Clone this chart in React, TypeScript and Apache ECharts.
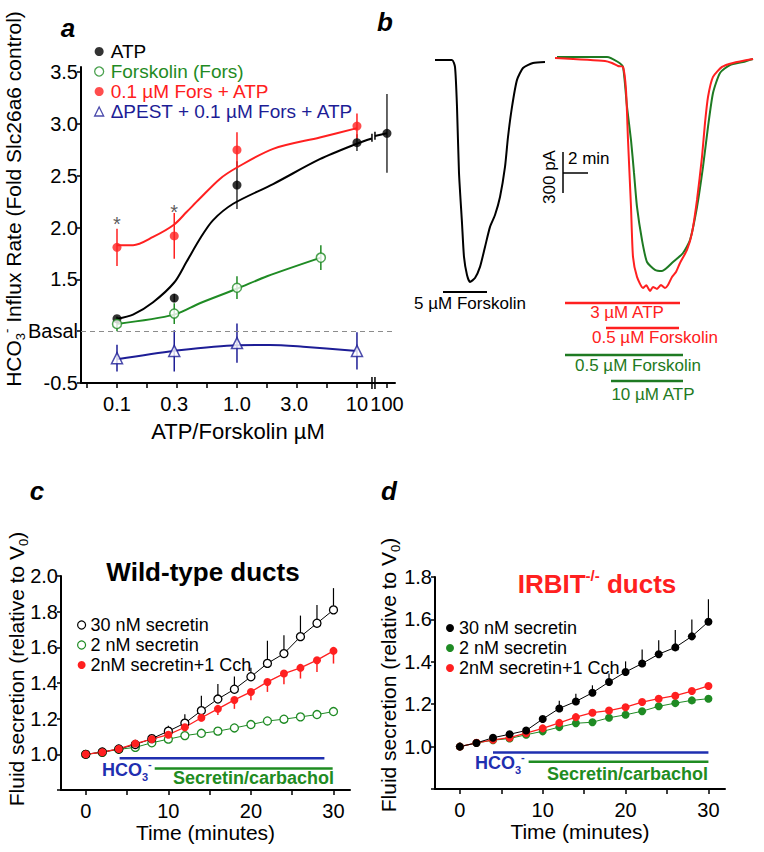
import React, { useEffect, useRef } from 'react';
import * as echarts from 'echarts';

const FONT = '"Liberation Sans", Arial, Helvetica, sans-serif';
const BLACK = '#000000';
const GREEN = '#1f8b24';
const RED = '#ff2020';
const NAVY = '#1d1d96';
const BAR_BLUE = '#1f2fb0';
const BAR_GREEN = '#1f8c22';
const TRACE_GREEN = '#1e7a22';

// ---------------- Panel a: HCO3- influx vs concentration ----------------
const A_TICK_VALUES = [0.1, 0.3, 1, 3, 10, 100];
const A_TICK_TEXT = ['0.1', '0.3', '1.0', '3.0', '10', '100'];

const atpX = [0.1, 0.3, 1, 10, 100];
const atpY = [1.12, 1.32, 2.41, 2.82, 2.91];
const atpErr = [0.02, 0.04, 0.23, 0.08, 0.38];

const forsX = [0.1, 0.3, 1, 5];
const forsY = [1.07, 1.17, 1.42, 1.71];
const forsErr = [0.07, 0.1, 0.11, 0.12];

const comboX = [0.1, 0.3, 1, 10];
const comboY = [1.81, 1.92, 2.75, 2.98];
const comboErr = [0.18, 0.22, 0.17, 0.12];
const comboSignificant = [true, true, false, false];

const pestX = [0.1, 0.3, 1, 10];
const pestY = [0.74, 0.81, 0.885, 0.81];
const pestErr = [0.13, 0.2, 0.19, 0.18];

// fitted curves: [µM, fold]
const atpFit = [[0.1, 1.12], [0.136, 1.16], [0.2, 1.28], [0.3, 1.47], [0.38, 1.67], [0.49, 1.89], [0.63, 2.07], [0.93, 2.23], [2, 2.42], [4.9, 2.66], [10, 2.81], [13.3, 2.86]];
const atpFitTail = [[14.1, 2.885], [100, 2.91]];
const comboFit = [[0.1, 1.83], [0.136, 1.83], [0.2, 1.91], [0.3, 2.03], [0.38, 2.15], [0.49, 2.28], [0.72, 2.47], [1, 2.58], [2, 2.76], [4.9, 2.87], [10, 2.96]];
const forsFit = [[0.1, 1.07], [0.3, 1.16], [0.49, 1.27], [1, 1.41], [1.78, 1.53], [5, 1.71]];
const pestFit = [[0.1, 0.73], [0.3, 0.81], [1, 0.865], [1.88, 0.867], [3.55, 0.85], [10, 0.81]];

// ---------------- Panel b: whole-cell current traces [min, pA] ----------------
const traceControl = [[2.8, 0], [4.16, 0], [4.4, -51], [4.56, -344], [4.72, -827], [4.96, -1193], [5.12, -1442], [5.36, -1574], [5.6, -1625], [6.0, -1596], [6.4, -1515], [6.8, -1369], [7.2, -1222], [7.6, -1135], [8.0, -1003], [8.4, -783], [8.64, -564], [8.96, -344], [9.36, -146], [9.84, -59], [10.64, -22], [11.6, -15]];
const traceForsAtp = [[12.56, 22], [16.56, 22], [17.44, -15], [17.84, -51], [18.16, -344], [18.48, -586], [18.72, -827], [18.96, -1076], [19.36, -1318], [19.76, -1479], [20.4, -1537], [20.96, -1545], [21.84, -1479], [22.64, -1413], [23.2, -1318], [23.76, -1076], [24.24, -783], [24.64, -490], [25.04, -242], [25.6, -95], [26.4, -37], [27.44, -15], [28.24, 7]];
const traceAtpFors = [[12.4, 15], [16.4, -7], [16.96, -22], [17.44, -44], [17.84, -51], [18.08, -220], [18.24, -586], [18.48, -1076], [18.64, -1442], [18.96, -1588], [19.44, -1669], [19.7, -1650], [20.0, -1691], [20.24, -1662], [20.56, -1676], [20.88, -1647], [21.2, -1669], [21.44, -1647], [21.76, -1588], [22.08, -1552], [22.4, -1486], [22.96, -1391], [23.36, -1266], [23.76, -1025], [24.16, -710], [24.4, -461], [24.64, -271], [25.04, -124], [25.76, -51], [26.64, -22], [28.24, 7]];
// protocol bars [start, end] in min
const barFors5 = [3.44, 6.96];
const barAtp3 = [13.2, 22.4];
const barFors05Red = [16.48, 22.32];
const barFors05Green = [13.2, 22.64];
const barAtp10 = [16.88, 22.64];

// ---------------- Panels c, d: fluid secretion ----------------
const TIME = [0, 2, 4, 6, 8, 10, 12, 14, 16, 18, 20, 22, 24, 26, 28, 30];
const wt30 = [1.0, 1.013, 1.03, 1.055, 1.088, 1.13, 1.175, 1.245, 1.31, 1.365, 1.435, 1.51, 1.565, 1.66, 1.735, 1.81];
const wt30Err = [0, 0, 0, 0, 0, 0.03, 0.05, 0.084, 0.084, 0.071, 0.05, 0.127, 0.103, 0.118, 0.103, 0.122];
const wt2 = [1.0, 1.011, 1.028, 1.039, 1.065, 1.085, 1.105, 1.118, 1.13, 1.148, 1.167, 1.187, 1.197, 1.21, 1.223, 1.24];
const wtCch = [1.0, 1.012, 1.03, 1.06, 1.085, 1.11, 1.152, 1.205, 1.255, 1.305, 1.35, 1.406, 1.453, 1.485, 1.528, 1.58];
const wtCchErr = [0, 0, 0, 0, 0, 0, 0, 0.02, 0.034, 0.05, 0.047, 0.056, 0.06, 0.06, 0.066, 0.071];

const ko30 = [1.0, 1.017, 1.042, 1.058, 1.076, 1.13, 1.18, 1.213, 1.254, 1.305, 1.352, 1.392, 1.436, 1.468, 1.52, 1.589];
const ko30Err = [0, 0, 0, 0, 0, 0, 0.036, 0.036, 0.035, 0.04, 0.05, 0.066, 0.066, 0.082, 0.079, 0.106];
const ko2 = [1.0, 1.017, 1.03, 1.038, 1.056, 1.072, 1.092, 1.11, 1.115, 1.136, 1.15, 1.167, 1.19, 1.205, 1.218, 1.226];
const koCch = [1.0, 1.018, 1.032, 1.042, 1.063, 1.086, 1.112, 1.139, 1.16, 1.17, 1.186, 1.21, 1.226, 1.24, 1.262, 1.286];

const cHco3Bar = [4.1, 28.9];
const cSecBar = [8.35, 29.9];
const dHco3Bar = [4.0, 30];
const dSecBar = [8.3, 30];

const LEGEND_TEXT: Record<string, string> = {
  c30: '30 nM secretin', c2: '2 nM secretin', cCch: '2nM secretin+1 Cch',
  d30: '30 nM secretin', d2: '2 nM secretin', dCch: '2nM secretin+1 Cch',
};

const pos = (x: number) => (x >= 100 ? 1.25 : Math.log10(x));

function errBars(name: string, xs: number[], ys: number[], lo: number[], hi: number[], color: string, idx: number, width: number, mapX: (x: number) => number) {
  return {
    type: 'custom', name, xAxisIndex: idx, yAxisIndex: idx, z: 1, silent: true,
    data: xs.map((x, i) => [mapX(x), ys[i] - lo[i], ys[i] + hi[i]]),
    encode: { x: 0, y: [1, 2] },
    renderItem: (_p: any, api: any) => {
      const a = api.coord([api.value(0), api.value(1)]);
      const b = api.coord([api.value(0), api.value(2)]);
      return { type: 'line', shape: { x1: a[0], y1: a[1], x2: b[0], y2: b[1] }, style: { stroke: color, lineWidth: width } };
    },
  };
}

function txt(text: string, x: number, y: number, o: any = {}) {
  const align = o.align || 'center';
  return {
    type: 'text', x, y, rotation: o.rotation || 0, silent: true, z: 100,
    style: {
      text, fill: o.color || BLACK, fontSize: o.size || 20, fontWeight: o.weight || 'normal',
      fontStyle: o.style || 'normal', fontFamily: FONT,
      align, verticalAlign: 'middle', textAlign: align, textVerticalAlign: 'middle',
      rich: o.rich,
    },
  };
}

function hline(x1: number, y1: number, x2: number, y2: number, w = 1.5) {
  return { type: 'line', silent: true, shape: { x1, y1, x2, y2 }, style: { stroke: BLACK, lineWidth: w } };
}

function richSub(size: number, color: string, weight = 'normal') {
  return {
    m: { fontSize: size, lineHeight: size + 6, fill: color, color, fontWeight: weight, fontFamily: FONT },
    s: { fontSize: Math.round(size * 0.62), lineHeight: Math.round(size * 0.62), verticalAlign: 'bottom', fill: color, color, fontWeight: weight, fontFamily: FONT },
    p: { fontSize: Math.round(size * 0.62), lineHeight: Math.round(size * 0.62), verticalAlign: 'top', fill: color, color, fontWeight: weight, fontFamily: FONT },
  };
}

function buildOption() {
  const axisLine = { show: true, onZero: false, lineStyle: { color: BLACK, width: 2 } };
  const tick = { show: true, length: 5, inside: false, lineStyle: { color: BLACK, width: 1.5 } };
  const label = { color: BLACK, fontSize: 20, fontFamily: FONT };

  const dataTicksA = [-1.25, -1, -0.75, -0.5, -0.25, 0, 0.25, 0.5, 0.75, 1, 1.25];

  const xAxis: any[] = [
    {
      gridIndex: 0, type: 'value', min: -1.3, max: 1.317,
      axisLine, splitLine: { show: false },
      axisTick: { ...tick, customValues: dataTicksA },
      axisLabel: {
        ...label, margin: 11,
        customValues: A_TICK_VALUES.map(pos),
        formatter: (v: number) => {
          const i = A_TICK_VALUES.findIndex((t) => Math.abs(pos(t) - v) < 1e-6);
          return i >= 0 ? A_TICK_TEXT[i] : '';
        },
      },
      name: 'ATP/Forskolin µM', nameLocation: 'middle', nameGap: 37,
      nameTextStyle: { color: BLACK, fontSize: 22, fontFamily: FONT },
    },
    { gridIndex: 1, type: 'value', min: 0, max: 29.12, show: false },
    {
      gridIndex: 2, type: 'value', min: -3, max: 32, axisLine, splitLine: { show: false },
      axisTick: { ...tick, customValues: [0, 5, 10, 15, 20, 25, 30] },
      axisLabel: { ...label, margin: 11, customValues: [0, 10, 20, 30] },
      name: 'Time (minutes)', nameLocation: 'middle', nameGap: 26,
      nameTextStyle: { color: BLACK, fontSize: 21, fontFamily: FONT },
    },
    {
      gridIndex: 3, type: 'value', min: -3, max: 32, axisLine, splitLine: { show: false },
      axisTick: { ...tick, customValues: [0, 5, 10, 15, 20, 25, 30] },
      axisLabel: { ...label, margin: 11, customValues: [0, 10, 20, 30] },
      name: 'Time (minutes)', nameLocation: 'middle', nameGap: 26,
      nameTextStyle: { color: BLACK, fontSize: 21, fontFamily: FONT },
    },
  ];

  const yAxis: any[] = [
    {
      gridIndex: 0, type: 'value', min: 0.5, max: 3.55, interval: 0.5,
      axisLine, axisTick: { ...tick, length: 4 }, splitLine: { show: false },
      axisLabel: {
        ...label, margin: 3, showMaxLabel: false,
        formatter: (v: number) => (Math.abs(v - 1) < 1e-6 ? 'Basal' : Math.abs(v - 0.5) < 1e-6 ? '-0.5' : v.toFixed(1)),
      },
    },
    { gridIndex: 1, type: 'value', min: -2489, max: 146, show: false },
    {
      gridIndex: 2, type: 'value', min: 0.8, max: 2.0, interval: 0.2,
      axisLine, axisTick: { ...tick, length: 4 }, splitLine: { show: false },
      axisLabel: { ...label, margin: 3, formatter: (v: number) => (v < 0.9 ? '' : v.toFixed(1)) },
    },
    {
      gridIndex: 3, type: 'value', min: 0.8, max: 1.8, interval: 0.2,
      axisLine, axisTick: { ...tick, length: 4 }, splitLine: { show: false },
      axisLabel: { ...label, margin: 3, formatter: (v: number) => (v < 0.9 ? '' : v.toFixed(1)) },
    },
  ];

  const fit = (name: string, pts: number[][], color: string) => ({
    type: 'line', name, xAxisIndex: 0, yAxisIndex: 0, z: 2, silent: true,
    data: pts.map(([x, y]) => [pos(x), y]), smooth: 0.3, symbol: 'none',
    lineStyle: { color, width: 2 },
  });

  const pts = (name: string, xs: number[], ys: number[], symbol: string, color: string, open: boolean, size: number, extra: any = {}) => ({
    type: 'scatter', name, xAxisIndex: 0, yAxisIndex: 0, z: 3, silent: true,
    symbol, symbolSize: size,
    itemStyle: open ? { color: '#ffffff', borderColor: color, borderWidth: 1.5 } : { color },
    data: xs.map((x, i) => [pos(x), ys[i]]),
    ...extra,
  });

  const tline = (name: string, data: number[][], color: string) => ({
    type: 'line', name, xAxisIndex: 1, yAxisIndex: 1, data, symbol: 'none', smooth: 0.2, silent: true,
    lineStyle: { color, width: 2 }, z: 2,
  });
  const pbar = (name: string, span: number[], level: number, color: string, idx: number, width = 2.5) => ({
    type: 'line', name, xAxisIndex: idx, yAxisIndex: idx, symbol: 'none', silent: true,
    data: [[span[0], level], [span[1], level]], lineStyle: { color, width }, z: 2,
  });

  const sec = (name: string, idx: number, ys: number[], color: string, open: boolean, lineW = 1) => ({
    type: 'line', name, xAxisIndex: idx, yAxisIndex: idx, silent: true,
    data: TIME.map((t, i) => [t, ys[i]]), symbol: 'circle', symbolSize: 8, showSymbol: true,
    itemStyle: open ? { color: '#ffffff', borderColor: color, borderWidth: 1.3 } : { color },
    lineStyle: { color, width: lineW }, z: 3,
  });

  const breaks = {
    type: 'custom', name: 'breaks', xAxisIndex: 0, yAxisIndex: 0, silent: true, z: 4,
    data: [[1.125, 0.5, 6], [1.15, 0.5, 6], [1.125, 2.868, 4], [1.15, 2.886, 4]],
    renderItem: (_p: any, api: any) => {
      const c = api.coord([api.value(0), api.value(1)]);
      const h = api.value(2);
      return { type: 'line', shape: { x1: c[0], y1: c[1] - h, x2: c[0], y2: c[1] + h }, style: { stroke: BLACK, lineWidth: 1.5 } };
    },
  };

  const series: any[] = [
    // panel a
    errBars('errATP', atpX, atpY, atpErr, atpErr, '#333333', 0, 1.5, pos),
    errBars('errFors', forsX, forsY, forsErr, forsErr, GREEN, 0, 1.5, pos),
    errBars('errCombo', comboX, comboY, comboErr, comboErr, RED, 0, 1.5, pos),
    errBars('errPest', pestX, pestY, pestErr, pestErr, NAVY, 0, 1.5, pos),
    fit('fitATP', atpFit, BLACK),
    fit('fitATPTail', atpFitTail, BLACK),
    fit('fitFors', forsFit, GREEN),
    fit('fitCombo', comboFit, RED),
    fit('fitPest', pestFit, NAVY),
    pts('ATP', atpX, atpY, 'circle', BLACK, false, 9, {
      markLine: {
        silent: true, symbol: 'none', label: { show: false },
        lineStyle: { color: '#8c8c8c', type: [5, 4], width: 1 },
        data: [{ yAxis: 1 }],
      },
    }),
    pts('Forskolin (Fors)', forsX, forsY, 'circle', GREEN, true, 9),
    {
      ...pts('0.1 µM Fors + ATP', comboX, comboY, 'circle', RED, false, 9),
      data: comboX.map((x, i) => ({
        value: [pos(x), comboY[i]],
        label: comboSignificant[i]
          ? { show: true, formatter: '*', position: 'top', distance: 7 + comboErr[i] * 10, color: '#333', fontSize: 20, fontFamily: FONT }
          : { show: false },
      })),
    },
    pts('ΔPEST + 0.1 µM Fors + ATP', pestX, pestY, 'triangle', NAVY, true, 11),
    breaks,
    // panel b
    tline('traceControl', traceControl, BLACK),
    tline('traceForsAtp', traceForsAtp, TRACE_GREEN),
    tline('traceAtpFors', traceAtpFors, RED),
    pbar('barFors5', barFors5, -1698, BLACK, 1, 2),
    pbar('barAtp3', barAtp3, -1779, RED, 1, 2.5),
    pbar('barFors05Red', barFors05Red, -1962, RED, 1, 2.5),
    pbar('barFors05Green', barFors05Green, -2159, TRACE_GREEN, 1, 2.5),
    pbar('barAtp10', barAtp10, -2350, TRACE_GREEN, 1, 2.5),
    // panel c
    errBars('errC30', TIME, wt30, wt30.map(() => 0), wt30Err, BLACK, 2, 1.2, (x) => x),
    errBars('errCCch', TIME, wtCch, wtCchErr, wtCch.map(() => 0), RED, 2, 1.5, (x) => x),
    pbar('cHco3', cHco3Bar, 0.978, BAR_BLUE, 2, 2.5),
    pbar('cSec', cSecBar, 0.921, BAR_GREEN, 2, 2.5),
    sec('c2', 2, wt2, GREEN, true, 1),
    sec('c30', 2, wt30, BLACK, true, 1),
    sec('cCch', 2, wtCch, RED, false, 1.3),
    // panel d
    errBars('errD30', TIME, ko30, ko30.map(() => 0), ko30Err, BLACK, 3, 1.2, (x) => x),
    pbar('dHco3', dHco3Bar, 0.972, BAR_BLUE, 3, 2.5),
    pbar('dSec', dSecBar, 0.929, BAR_GREEN, 3, 2.5),
    sec('d2', 3, ko2, GREEN, false, 1),
    sec('dCch', 3, koCch, RED, false, 1.3),
    sec('d30', 3, ko30, BLACK, false, 1),
  ];

  const legendBase = {
    orient: 'vertical', selectedMode: false, itemWidth: 9, itemHeight: 9,
    textStyle: { fontSize: 18, fontFamily: FONT, color: BLACK },
  };

  const legend: any[] = [
    {
      ...legendBase, left: 89, top: 37, itemGap: 1,
      textStyle: { fontSize: 19, fontFamily: FONT, color: BLACK, padding: [0, 0, 0, 2] },
      data: [
        { name: 'ATP', icon: 'circle', itemStyle: { color: BLACK }, textStyle: { color: BLACK } },
        { name: 'Forskolin (Fors)', icon: 'circle', itemStyle: { color: '#fff', borderColor: GREEN, borderWidth: 1.3 }, textStyle: { color: GREEN } },
        { name: '0.1 µM Fors + ATP', icon: 'circle', itemStyle: { color: RED }, textStyle: { color: RED } },
        { name: 'ΔPEST + 0.1 µM Fors + ATP', icon: 'triangle', itemStyle: { color: '#fff', borderColor: NAVY, borderWidth: 1.3 }, textStyle: { color: NAVY } },
      ],
    },
    {
      ...legendBase, left: 72, top: 611, itemGap: 2, itemWidth: 8, itemHeight: 8,
      formatter: (n: string) => LEGEND_TEXT[n],
      data: [
        { name: 'c30', icon: 'circle', itemStyle: { color: '#fff', borderColor: BLACK, borderWidth: 1.2 } },
        { name: 'c2', icon: 'circle', itemStyle: { color: '#fff', borderColor: GREEN, borderWidth: 1.2 } },
        { name: 'cCch', icon: 'circle', itemStyle: { color: RED } },
      ],
    },
    {
      ...legendBase, left: 441, top: 614, itemGap: 2, itemWidth: 8, itemHeight: 8,
      formatter: (n: string) => LEGEND_TEXT[n],
      data: [
        { name: 'd30', icon: 'circle', itemStyle: { color: BLACK } },
        { name: 'd2', icon: 'circle', itemStyle: { color: GREEN } },
        { name: 'dCch', icon: 'circle', itemStyle: { color: RED } },
      ],
    },
  ];

  const graphic: any[] = [
    txt('a', 68, 28, { size: 26, weight: 'bold', style: 'italic' }),
    txt('b', 385, 22, { size: 26, weight: 'bold', style: 'italic' }),
    txt('c', 37, 491, { size: 26, weight: 'bold', style: 'italic' }),
    txt('d', 389, 491, { size: 26, weight: 'bold', style: 'italic' }),
    txt('{m|HCO}{s|3}{p|-}{m| Influx Rate (Fold Slc26a6 control)}', 13, 199, { rotation: Math.PI / 2, rich: richSub(21, BLACK) }),
    txt('{m|Fluid secretion (relative to V}{s|0}{m|)}', 16, 669, { rotation: Math.PI / 2, rich: richSub(21, BLACK) }),
    txt('{m|Fluid secretion (relative to V}{s|0}{m|)}', 388, 675, { rotation: Math.PI / 2, rich: richSub(21, BLACK) }),
    txt('Wild-type ducts', 203, 572, { size: 26, weight: 'bold' }),
    txt('{m|IRBIT}{p|-/-}{m| ducts}', 597, 584, { rich: { ...richSub(26, RED, 'bold'), p: { fontSize: 15, lineHeight: 15, verticalAlign: 'top', fill: RED, fontWeight: 'bold', fontFamily: FONT } } }),
    // panel c/d protocol labels
    txt('{m|HCO}{s|3}{p|-}', 102, 770, { align: 'left', rich: richSub(18, BAR_BLUE, 'bold') }),
    txt('Secretin/carbachol', 173, 778, { align: 'left', size: 18, weight: 'bold', color: BAR_GREEN }),
    txt('{m|HCO}{s|3}{p|-}', 475, 763, { align: 'left', rich: richSub(18, BAR_BLUE, 'bold') }),
    txt('Secretin/carbachol', 547, 774, { align: 'left', size: 18, weight: 'bold', color: BAR_GREEN }),
    // panel b labels
    txt('5 µM Forskolin', 470, 303, { size: 17 }),
    txt('3 µM ATP', 627, 312, { size: 17, color: RED }),
    txt('0.5 µM Forskolin', 655, 337, { size: 17, color: RED }),
    txt('0.5 µM Forskolin', 638, 365, { size: 17, color: TRACE_GREEN }),
    txt('10 µM ATP', 653, 394, { size: 17, color: TRACE_GREEN }),
    hline(563, 152, 563, 193),
    hline(563, 173, 588, 173),
    txt('2 min', 568, 158, { size: 17, align: 'left' }),
    txt('300 pA', 549, 177, { size: 17, rotation: Math.PI / 2 }),
  ];

  return {
    animation: false,
    backgroundColor: '#ffffff',
    textStyle: { fontFamily: FONT },
    grid: [
      { left: 81, top: 67, width: 314, height: 316 },
      { left: 400, top: 40, width: 364, height: 360 },
      { left: 61, top: 576, width: 289, height: 214 },
      { left: 435, top: 577, width: 290, height: 212 },
    ],
    xAxis, yAxis, legend, series, graphic,
  };
}

export default function App() {
  const ref = useRef<HTMLDivElement>(null);
  useEffect(() => {
    if (!ref.current) return;
    const chart = echarts.init(ref.current, undefined, { renderer: 'svg' });
    chart.setOption(buildOption() as any);
    return () => chart.dispose();
  }, []);
  return (
    <div
      ref={ref}
      style={{ position: 'fixed', left: 0, top: 0, width: 764, height: 852, background: '#ffffff' }}
    />
  );
}
